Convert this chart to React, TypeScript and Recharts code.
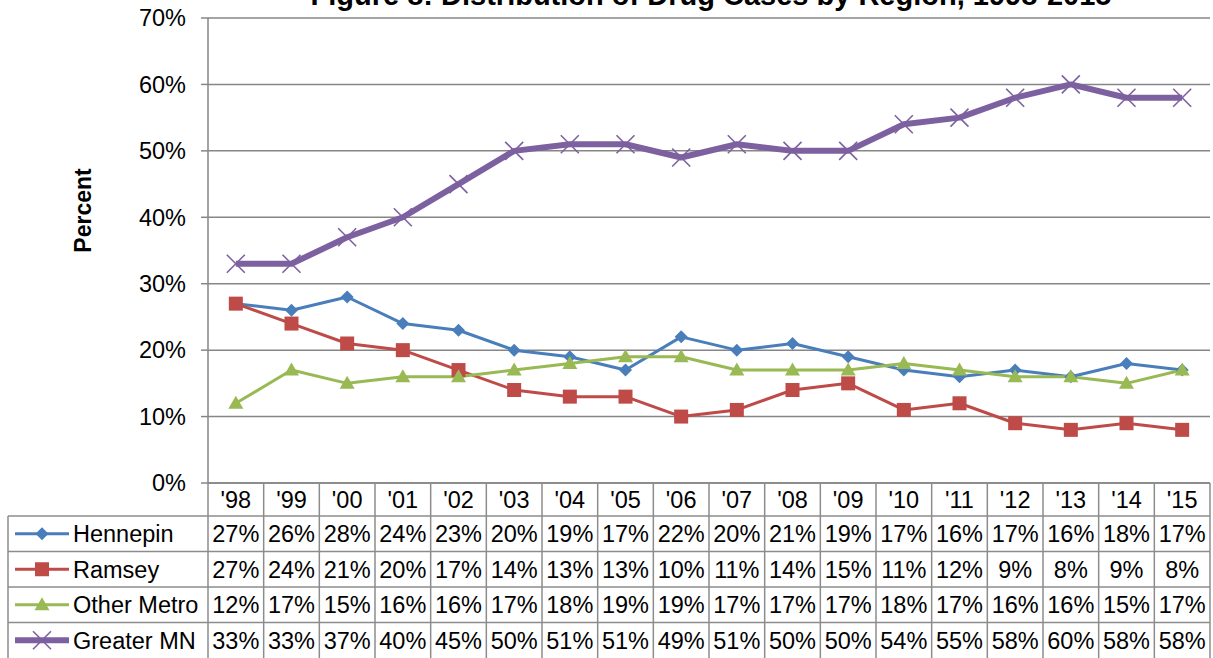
import { CartesianGrid, Line, LineChart, XAxis, YAxis } from "recharts";

const years = ["'98", "'99", "'00", "'01", "'02", "'03", "'04", "'05", "'06", "'07", "'08", "'09", "'10", "'11", "'12", "'13", "'14", "'15"];
const hennepin = [27, 26, 28, 24, 23, 20, 19, 17, 22, 20, 21, 19, 17, 16, 17, 16, 18, 17];
const ramsey = [27, 24, 21, 20, 17, 14, 13, 13, 10, 11, 14, 15, 11, 12, 9, 8, 9, 8];
const otherMetro = [12, 17, 15, 16, 16, 17, 18, 19, 19, 17, 17, 17, 18, 17, 16, 16, 15, 17];
const greaterMN = [33, 33, 37, 40, 45, 50, 51, 51, 49, 51, 50, 50, 54, 55, 58, 60, 58, 58];
const yTicks = [0, 10, 20, 30, 40, 50, 60, 70];

const series = [
  { key: "hennepin", name: "Hennepin", color: "#4A7EBB", width: 3, marker: "diamond", values: hennepin },
  { key: "ramsey", name: "Ramsey", color: "#BE4B48", width: 3, marker: "square", values: ramsey },
  { key: "otherMetro", name: "Other Metro", color: "#98B954", width: 3, marker: "triangle", values: otherMetro },
  { key: "greaterMN", name: "Greater MN", color: "#7D60A0", width: 6, marker: "x", values: greaterMN },
];

const data = years.map((year, i) => {
  const row: any = { year };
  series.forEach((s) => (row[s.key] = s.values[i]));
  return row;
});

const GRID = "#868686";
const BORDER = "#8c8c8c";
const FONT = "'Liberation Sans', Arial, sans-serif";
const FS = 23.5;
const HEADER_H = 33;
const ROW_H = 35.5;
const TABLE_LEFT = 0;

function marker(kind: string, cx: number, cy: number, color: string, key?: any) {
  if (kind === "diamond") {
    return <path key={key} d={`M${cx},${cy - 6.5}L${cx + 6.5},${cy}L${cx},${cy + 6.5}L${cx - 6.5},${cy}Z`} fill={color} />;
  }
  if (kind === "square") {
    return <rect key={key} x={cx - 7} y={cy - 7} width={14} height={14} fill={color} />;
  }
  if (kind === "triangle") {
    return <path key={key} d={`M${cx},${cy - 7.5}L${cx + 7.5},${cy + 5.5}L${cx - 7.5},${cy + 5.5}Z`} fill={color} />;
  }
  return (
    <g key={key} stroke={color} strokeWidth={1.6}>
      <line x1={cx - 9} y1={cy - 9} x2={cx + 9} y2={cy + 9} />
      <line x1={cx - 9} y1={cy + 9} x2={cx + 9} y2={cy - 9} />
    </g>
  );
}

// each x tick draws one column of the data table below the plot
function TableColumn(props: any) {
  const { x, y, payload, index, width, visibleTicksCount } = props;
  const bw = width && visibleTicksCount ? width / visibleTicksCount : 55.7;
  const left = x - bw / 2;
  const right = x + bw / 2;
  const bottom = 660;
  const rows = series.map((s, i) => {
    const top = y + HEADER_H + i * ROW_H;
    return (
      <g key={s.key}>
        <line x1={left} x2={right} y1={top} y2={top} stroke={BORDER} strokeWidth={1.5} />
        <text x={x} y={top + ROW_H / 2 + 8.5} textAnchor="middle" fontSize={FS} fill="#000">
          {s.values[index]}%
        </text>
      </g>
    );
  });

  let legendCol = null;
  if (index === 0) {
    const lx = 8 + TABLE_LEFT;
    legendCol = (
      <g>
        <line x1={lx} x2={lx} y1={y + HEADER_H} y2={bottom} stroke={BORDER} strokeWidth={1.5} />
        <line x1={left} x2={left} y1={y} y2={bottom} stroke={BORDER} strokeWidth={1.5} />
        {series.map((s, i) => {
          const top = y + HEADER_H + i * ROW_H;
          const cy = top + ROW_H / 2;
          return (
            <g key={s.key}>
              <line x1={lx} x2={left} y1={top} y2={top} stroke={BORDER} strokeWidth={1.5} />
              <line x1={15} x2={69} y1={cy} y2={cy} stroke={s.color} strokeWidth={s.width} />
              {marker(s.marker, 42, cy, s.color)}
              <text x={73} y={cy + 8.5} fontSize={FS} fill="#000">
                {s.name}
              </text>
            </g>
          );
        })}
      </g>
    );
  }

  return (
    <g fontFamily={FONT}>
      {legendCol}
      <line x1={right} x2={right} y1={y} y2={bottom} stroke={BORDER} strokeWidth={1.5} />
      <text x={x} y={y + HEADER_H / 2 + 8.5} textAnchor="middle" fontSize={FS} fill="#000">
        {payload.value}
      </text>
      {rows}
    </g>
  );
}

export default function App() {
  return (
    <div style={{ position: "absolute", left: 0, top: 0, fontFamily: FONT }}>
      <style>{`body{margin:0}`}</style>
      <LineChart width={1213} height={658} data={data} margin={{ top: 18, right: 3, left: 0, bottom: 0 }}>
        <CartesianGrid vertical={false} stroke={GRID} strokeWidth={1.5} />
        <XAxis
          dataKey="year"
          scale="band"
          interval={0}
          height={175}
          tickLine={false}
          tickSize={0}
          tickMargin={0}
          axisLine={{ stroke: GRID, strokeWidth: 1.5 }}
          tick={<TableColumn />}
        />
        <YAxis
          width={208}
          domain={[0, 70]}
          ticks={yTicks}
          tickFormatter={(v) => `${v}%`}
          axisLine={{ stroke: GRID, strokeWidth: 1.5 }}
          tickLine={{ stroke: GRID, strokeWidth: 1.5 }}
          tickSize={7}
          tickMargin={15}
          tick={{ fontSize: FS, fill: "#000", fontFamily: FONT }}
        />
        {series.map((s) => (
          <Line
            key={s.key}
            dataKey={s.key}
            name={s.name}
            type="linear"
            stroke={s.color}
            strokeWidth={s.width}
            strokeLinejoin="round"
            dot={(p: any) => marker(s.marker, p.cx, p.cy, s.color, p.index)}
            activeDot={false}
            isAnimationActive={false}
          />
        ))}
        <text x={711} y={5} textAnchor="middle" fontSize={29} fontWeight="bold" fontFamily={FONT} fill="#000">
          Figure 8: Distribution of Drug Cases by Region, 1998-2015
        </text>
        <text
          x={83}
          y={210.5}
          transform="rotate(-90 83 210.5)"
          textAnchor="middle"
          dominantBaseline="central"
          fontSize={23}
          fontWeight="bold"
          fontFamily={FONT}
          fill="#000"
        >
          Percent
        </text>
      </LineChart>
    </div>
  );
}
